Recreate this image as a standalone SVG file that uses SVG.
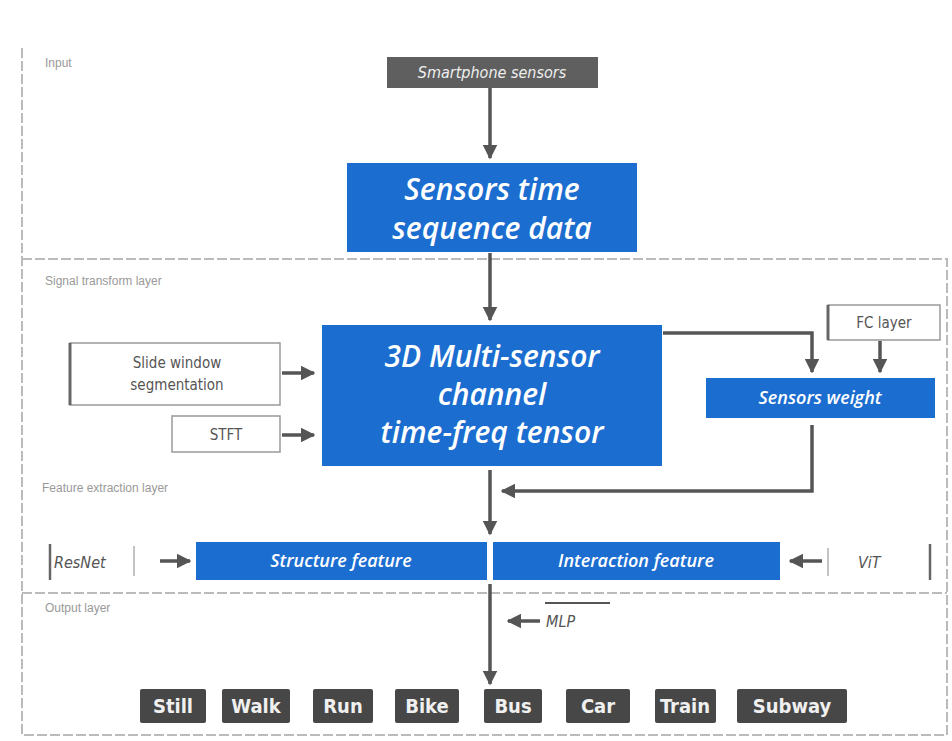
<svg xmlns="http://www.w3.org/2000/svg" width="952" height="741" viewBox="0 0 952 741">
<defs>
<marker id="ah" viewBox="0 0 10 10" refX="9" refY="5" markerWidth="4.2" markerHeight="4.2" orient="auto" markerUnits="strokeWidth">
<path d="M0,0 L10,5 L0,10 z" fill="#555"/>
</marker>
<style>
.blue{fill:#1c6dd0;}
.bt{fill:#fff;font-family:"Open Sans","DejaVu Sans",sans-serif;font-style:italic;font-weight:600;text-anchor:middle;}
.gray{fill:#5f5f5f;}
.dark{fill:#474747;}
.ct{fill:#f0f0f0;font-family:"DejaVu Sans Condensed","DejaVu Sans",sans-serif;font-weight:bold;font-size:20px;text-anchor:middle;}
.wbox{fill:#fff;stroke:#999;stroke-width:1.5;}
.st{fill:#555;font-family:"DejaVu Sans Condensed","DejaVu Sans",sans-serif;font-size:15px;text-anchor:middle;}
.lbl{fill:#999;font-family:"Liberation Sans",sans-serif;font-size:12px;}
.conn{stroke:#555;stroke-width:3.5;fill:none;}
.sep{stroke:#bbb;stroke-width:2;stroke-dasharray:10 3;fill:none;}
</style>
</defs>
<rect width="952" height="741" fill="#fff"/>
<g id="frame">
<path class="sep" d="M22,48 V735 H947"/>
<path class="sep" d="M22,259 H947 V735"/>
<path class="sep" d="M22,593 H947"/>
<text class="lbl" x="45" y="67">Input</text>
<text class="lbl" x="45" y="285">Signal transform layer</text>
<text class="lbl" x="42" y="492">Feature extraction layer</text>
<text class="lbl" x="45" y="612">Output layer</text>
</g>
<g id="connectors">
<line class="conn" x1="490" y1="88" x2="490" y2="158" marker-end="url(#ah)"/>
<line class="conn" x1="490" y1="253" x2="490" y2="320" marker-end="url(#ah)"/>
<line class="conn" x1="282" y1="373" x2="314" y2="373" marker-end="url(#ah)"/>
<line class="conn" x1="282" y1="435" x2="314" y2="435" marker-end="url(#ah)"/>
<path class="conn" d="M663,333 H812 V372" marker-end="url(#ah)"/>
<line class="conn" x1="880" y1="341" x2="880" y2="372" marker-end="url(#ah)"/>
<path class="conn" d="M812,425 V491 H502" marker-end="url(#ah)"/>
<line class="conn" x1="490" y1="470" x2="490" y2="534" marker-end="url(#ah)"/>
<line class="conn" x1="160" y1="561" x2="190" y2="561" marker-end="url(#ah)"/>
<line class="conn" x1="822" y1="561" x2="790" y2="561" marker-end="url(#ah)"/>
<line class="conn" x1="490" y1="584" x2="490" y2="684" marker-end="url(#ah)"/>
<line class="conn" x1="540" y1="621" x2="508" y2="621" marker-end="url(#ah)"/>
</g>
<g id="raw">
<rect class="gray" x="387" y="57" width="211" height="31"/>
<text x="492" y="78" fill="#eee" font-family="DejaVu Sans Condensed,DejaVu Sans,sans-serif" font-size="16" font-style="italic" text-anchor="middle">Smartphone sensors</text>
</g>
<g id="seq">
<rect class="blue" x="347" y="163" width="290" height="89"/>
<text class="bt" font-size="30" x="492" y="200">Sensors time</text>
<text class="bt" font-size="30" x="492" y="239">sequence data</text>
</g>
<g id="tensor">
<rect class="blue" x="322" y="325" width="340" height="141"/>
<text class="bt" font-size="30" x="492" y="367">3D Multi-sensor</text>
<text class="bt" font-size="30" x="492" y="405">channel</text>
<text class="bt" font-size="30" x="492" y="443">time-freq tensor</text>
</g>
<g id="slide">
<rect class="wbox" x="70" y="343" width="210" height="62"/>
<line x1="70" y1="343" x2="70" y2="405" stroke="#666" stroke-width="3"/>
<text class="st" x="177" y="368">Slide window</text>
<text class="st" x="177" y="390">segmentation</text>
</g>
<g id="stft">
<rect class="wbox" x="172" y="416" width="108" height="36"/>
<text class="st" x="226" y="440">STFT</text>
</g>
<g id="fc">
<rect class="wbox" x="828" y="305" width="112" height="35"/>
<line x1="828" y1="305" x2="828" y2="340" stroke="#666" stroke-width="3"/>
<text class="st" x="884" y="328">FC layer</text>
</g>
<g id="weight">
<rect class="blue" x="706" y="378" width="229" height="40"/>
<text class="bt" font-size="18" x="820" y="404">Sensors weight</text>
</g>
<g id="structure">
<rect class="blue" x="196" y="542" width="291" height="38"/>
<text class="bt" font-size="18" x="341" y="567">Structure feature</text>
</g>
<g id="interaction">
<rect class="blue" x="493" y="542" width="287" height="38"/>
<text class="bt" font-size="18" x="636" y="567">Interaction feature</text>
</g>
<g id="resnet">
<line x1="50" y1="544" x2="50" y2="580" stroke="#666" stroke-width="2.5"/>
<text x="54" y="568" fill="#555" font-family="DejaVu Sans Condensed,DejaVu Sans,sans-serif" font-size="16" font-style="italic">ResNet</text>
<line x1="134" y1="546" x2="134" y2="576" stroke="#888" stroke-width="1"/>
</g>
<g id="vit">
<text x="858" y="568" fill="#555" font-family="DejaVu Sans Condensed,DejaVu Sans,sans-serif" font-size="16" font-style="italic">ViT</text>
<line x1="930" y1="544" x2="930" y2="580" stroke="#666" stroke-width="2.5"/>
<line x1="828" y1="548" x2="828" y2="576" stroke="#888" stroke-width="1"/>
</g>
<g id="mlp">
<line x1="545" y1="603" x2="610" y2="603" stroke="#555" stroke-width="2"/>
<text x="546" y="627" fill="#555" font-family="DejaVu Sans Condensed,DejaVu Sans,sans-serif" font-size="16" font-style="italic">MLP</text>
</g>
<g id="classes">
<g id="still"><rect class="dark" x="140" y="689" width="66" height="34" rx="2"/><text class="ct" x="173" y="713">Still</text></g>
<g id="walk"><rect class="dark" x="222" y="689" width="68" height="34" rx="2"/><text class="ct" x="256" y="713">Walk</text></g>
<g id="run"><rect class="dark" x="313" y="689" width="60" height="34" rx="2"/><text class="ct" x="343" y="713">Run</text></g>
<g id="bike"><rect class="dark" x="395" y="689" width="64" height="34" rx="2"/><text class="ct" x="427" y="713">Bike</text></g>
<g id="bus"><rect class="dark" x="484" y="689" width="58" height="34" rx="2"/><text class="ct" x="513" y="713">Bus</text></g>
<g id="car"><rect class="dark" x="566" y="689" width="64" height="34" rx="2"/><text class="ct" x="598" y="713">Car</text></g>
<g id="train"><rect class="dark" x="655" y="689" width="61" height="34" rx="2"/><text class="ct" x="685" y="713">Train</text></g>
<g id="subway"><rect class="dark" x="737" y="689" width="110" height="34" rx="2"/><text class="ct" x="792" y="713">Subway</text></g>
</g>
</svg>
